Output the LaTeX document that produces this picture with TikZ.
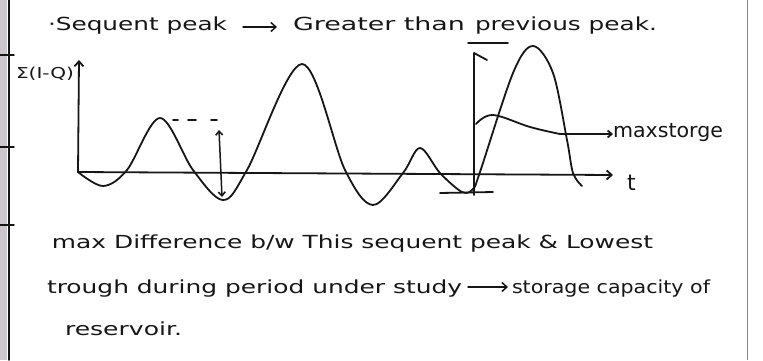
\documentclass[tikz,border=0pt]{standalone}
\usepackage{fontspec}
\setmainfont{DejaVu Sans}
\usepackage{graphicx}
\usetikzlibrary{arrows.meta}
\newcommand\fitw[2]{\resizebox{#1}{\height}{#2}}
\definecolor{ink}{HTML}{161616}
\definecolor{marginfill}{HTML}{CDC6CC}
\definecolor{rule}{HTML}{8A8088}
\tikzset{
  ink/.style={draw=ink, line width=1.8pt, line cap=round, line join=round},
  txt/.style={inner sep=0pt, outer sep=0pt, anchor=base west, text=ink, font=\fontsize{18}{20}\selectfont},
  barb/.style={-{Straight Barb[length=5pt,width=9pt]}},
  dbarb/.style={{Straight Barb[length=4pt,width=7pt]}-{Straight Barb[length=4pt,width=7pt]}},
}
\begin{document}
\begin{tikzpicture}[x=1pt,y=-1pt]
\useasboundingbox[fill=white] (0,0) rectangle (763,360);
% notebook margin
\fill[marginfill] (0,0) rectangle (7,360);
\draw[ink, line width=1.6pt] (9,0) -- (9,360);
\foreach \yy in {55,147,225} \draw[ink, line width=1.4pt] (0,\yy) -- (14,\yy);
\draw[rule, line width=1pt] (747,0) -- (747,360);

% top heading
\node[txt] (h1) at (48,30) {\fitw{179pt}{·Sequent peak}};
\node[txt] (h2) at (293,30) {\fitw{172pt}{Greater than}};
\node[txt] (h3) at (475,30) {\fitw{182pt}{previous peak.}};
\draw[ink, line width=1.5pt, barb] ([xshift=16pt,yshift=3pt]h1.base east) -- ([xshift=-16pt,yshift=3pt]h2.base west);
\coordinate (ul1) at (468,43);
\coordinate (ul2) at (508,43);
\draw[ink, line width=1.5pt] (ul1) -- (ul2);

% axes
\coordinate (O) at (78,172);
\coordinate (Ytop) at (79,60);
\coordinate (Xend) at (613,175);
\draw[ink, barb] (O) -- (Ytop);
\draw[ink, barb] (O) -- (Xend);
\node[txt, font=\fontsize{15}{17}\selectfont] (ylab) at (16,78) {\fitw{58pt}{Σ(I-Q)}};
\node[txt, font=\fontsize{22}{24}\selectfont] (tlab) at (627,190) {t};

% mass curve
\draw[ink] plot[smooth, tension=0.55] coordinates {
 (78,172) (103,186) (127,170) (160,118) (193,170) (223,200) (247,170)
 (302,64) (345,170) (373,205) (403,173) (420,148) (440,173) (462,192)
 (473,189) (480,172) (513,73) (533,46) (553,73) (567,140) (573,173) (582,186)};

% dashes from first peak and the double arrow
\draw[ink, line width=1.6pt] (173,120) -- (178,120);
\draw[ink, line width=1.6pt] (188,120) -- (196,120);
\draw[ink, line width=1.6pt] (211,120) -- (217,120);
\coordinate (da1) at (219,130);
\coordinate (da2) at (222,197);
\draw[ink, line width=1.5pt, dbarb] (da1) -- (da2);

% second axis at the sequent peak
\coordinate (S0) at (474,195);
\coordinate (S1) at (474,53);
\coordinate (S2) at (487,60);
\draw[ink] (S0) -- (S1) -- (S2);
\coordinate (B1) at (440,193);
\coordinate (B2) at (493,192);
\draw[ink] (B1) -- (B2);

% max storage curve
\node[txt, font=\fontsize{20}{22}\selectfont] (ms) at (613,137) {\fitw{110pt}{maxstorge}};
\draw[ink, -{Straight Barb[length=4pt,width=7pt]}] plot[smooth, tension=0.6] coordinates {(476,124) (493,115) (530,127) (560,134)} -- (ms.base west |- 0,134);

% bottom text
\node[txt] (b1) at (52,248) {\fitw{601pt}{max Difference b/w This sequent peak \& Lowest}};
\node[txt] (b2) at (47,293) {\fitw{415pt}{trough during period under study}};
\node[txt] (b3) at (512,293) {\fitw{198pt}{storage capacity of}};
\draw[ink, line width=1.5pt, barb] ([xshift=6pt,yshift=6pt]b2.base east) -- ([xshift=-4pt,yshift=6pt]b3.base west);
\node[txt] (b4) at (65,335) {\fitw{117pt}{reservoir.}};
\end{tikzpicture}
\end{document}
